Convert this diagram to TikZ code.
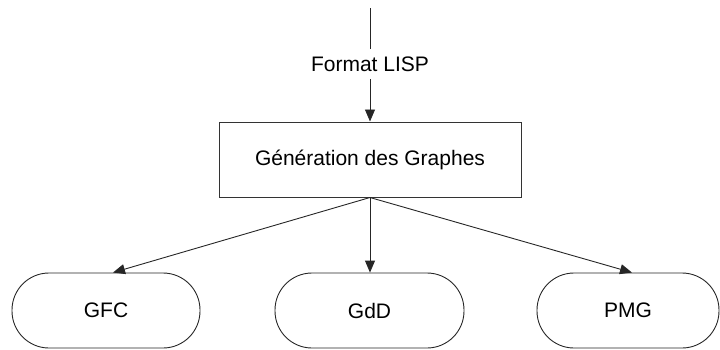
\documentclass[tikz,border=0pt]{standalone}
\usepackage{fontspec}
\setmainfont{Liberation Sans}
\usetikzlibrary{arrows.meta}
\begin{document}
\begin{tikzpicture}[x=1pt,y=-1pt,
  every node/.style={font=\fontsize{21}{25}\selectfont},
  conn/.style={draw=black!85, line width=0.9pt},
  arr/.style={conn, -{Triangle[length=12pt,width=10pt]}},
  procbox/.style={draw=black!80, line width=1pt, minimum width=302pt, minimum height=75pt, inner sep=0pt},
  termbox/.style={draw=black!85, line width=0.9pt, rounded corners=37pt, minimum height=75pt, inner sep=0pt}
]
\useasboundingbox (0,0) rectangle (720,349);
\coordinate (top) at (370,8);
\node[inner sep=0pt, minimum height=30pt] (fmt) at (370,64) {Format LISP};
\node[procbox] (gen) at (370,159.5) {Génération des Graphes};
\node[termbox, minimum width=188pt] (gfc) at (106,310.5) {GFC};
\node[termbox, minimum width=189pt] (gdd) at (369.5,310.5) {GdD};
\node[termbox, minimum width=182pt] (pmg) at (628,310.5) {PMG};
\draw[conn] (top) -- (fmt.north);
\draw[arr] (fmt.south) -- (gen.north);
\draw[arr] (gen.south) -- ([xshift=7pt]gfc.north);
\draw[arr] (gen.south) -- ([xshift=0.5pt]gdd.north);
\draw[arr] (gen.south) -- ([xshift=4pt]pmg.north);
\end{tikzpicture}
\end{document}
